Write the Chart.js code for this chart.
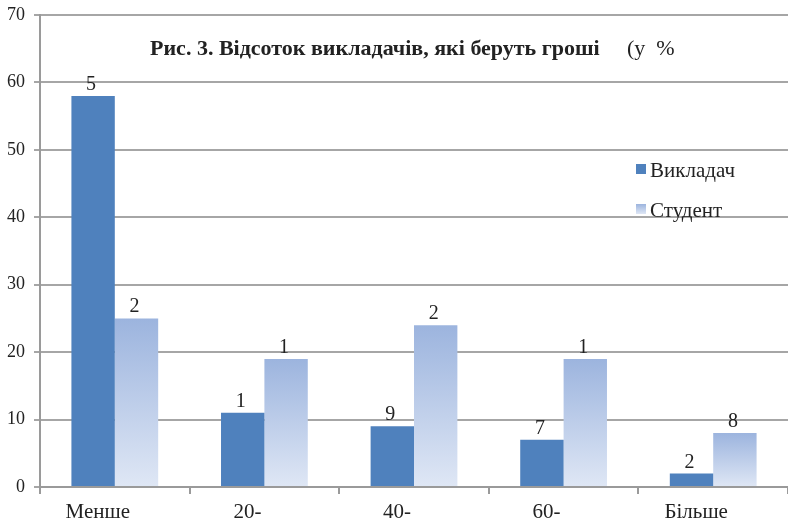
<!DOCTYPE html>
<html>
<head>
<meta charset="utf-8">
<script src="https://cdn.jsdelivr.net/npm/chart.js@4"></script>
<style>
  html, body { margin: 0; padding: 0; background: #fff; }
  #wrap { width: 788px; height: 522px; }
</style>
</head>
<body>
<div id="wrap"><canvas id="myChart" width="788" height="522"></canvas></div>
<script>
const categories = ['Менше', '20-', '40-', '60-', 'Більше'];
const teacherValues = [58, 11, 9, 7, 2];
const studentValues = [25, 19, 24, 19, 8];
// labels above the bars as printed in the source (truncated)
const teacherLabels = ['5', '1', '9', '7', '2'];
const studentLabels = ['2', '1', '2', '1', '8'];
const seriesNames = ['Викладач', 'Студент'];
const titleMain = 'Рис. 3. Відсоток викладачів, які беруть гроші';
const titleTail = '(у  %';

const serif = '"Liberation Serif", "DejaVu Serif", serif';

function studentGradient(ctx) {
  const chart = ctx.chart;
  if (!chart.chartArea || ctx.raw === undefined) return '#b4c7e7';
  const y = chart.scales.y;
  const top = y.getPixelForValue(ctx.raw);
  const bottom = y.getPixelForValue(0);
  const g = chart.ctx.createLinearGradient(0, top, 0, bottom);
  g.addColorStop(0, '#9cb4de');
  g.addColorStop(1, '#dfe7f5');
  return g;
}

const labelsPlugin = {
  id: 'barLabels',
  afterDatasetsDraw(chart) {
    const c = chart.ctx;
    const texts = [teacherLabels, studentLabels];
    c.save();
    c.font = '20px ' + serif;
    c.fillStyle = '#222';
    c.textAlign = 'center';
    c.textBaseline = 'alphabetic';
    chart.data.datasets.forEach((ds, i) => {
      chart.getDatasetMeta(i).data.forEach((bar, j) => {
        c.fillText(texts[i][j], bar.x - 2, bar.y - 6);
      });
    });
    c.restore();
  }
};

const decorPlugin = {
  id: 'decor',
  afterDraw(chart) {
    const c = chart.ctx;
    c.save();
    // title inside the plot
    c.font = 'bold 22px ' + serif;
    c.fillStyle = '#222';
    c.textAlign = 'left';
    c.textBaseline = 'middle';
    c.fillText(titleMain, 150, 49);
    c.font = '22px ' + serif;
    c.fillText(titleTail, 627, 49);
    // legend
    c.font = '21px ' + serif;
    c.fillStyle = '#4f81bd';
    c.fillRect(636, 164, 10, 10);
    const g = c.createLinearGradient(0, 204, 0, 214);
    g.addColorStop(0, '#9cb4de');
    g.addColorStop(1, '#dfe7f5');
    c.fillStyle = g;
    c.fillRect(636, 204, 10, 10);
    c.fillStyle = '#222';
    c.fillText(seriesNames[0], 650, 171);
    c.fillText(seriesNames[1], 650, 211);
    c.restore();
  }
};

const config = {
  type: 'bar',
  data: {
    labels: categories,
    datasets: [
      {
        label: seriesNames[0],
        data: teacherValues,
        backgroundColor: '#4f81bd',
        categoryPercentage: 0.58,
        barPercentage: 1,
      },
      {
        label: seriesNames[1],
        data: studentValues,
        backgroundColor: studentGradient,
        categoryPercentage: 0.58,
        barPercentage: 1,
      },
    ],
  },
  options: {
    responsive: false,
    animation: false,
    layout: { padding: { top: 15, right: 0, bottom: 0, left: 0 } },
    plugins: {
      legend: { display: false },
      title: { display: false },
      tooltip: { enabled: false },
    },
    scales: {
      x: {
        grid: {
          offset: true,
          drawOnChartArea: false,
          drawTicks: true,
          tickLength: 7,
          color: '#9a9a9a',
          lineWidth: 2,
        },
        border: { color: '#9a9a9a', width: 2 },
        ticks: {
          color: '#222',
          font: { family: serif, size: 21 },
          padding: 6,
          labelOffset: -17,
        },
        afterFit(scale) {
          scale.height = 35;
          scale.paddingLeft = 0;
          scale.paddingRight = 0;
        },
      },
      y: {
        min: 0,
        max: 70,
        ticks: {
          stepSize: 10,
          color: '#222',
          font: { family: serif, size: 18 },
          padding: 9,
        },
        grid: {
          color: '#a6a6a6',
          lineWidth: 2,
          tickLength: 6,
        },
        border: { color: '#9a9a9a', width: 2 },
        afterFit(scale) {
          scale.width = 40;
          scale.paddingTop = 0;
          scale.paddingBottom = 0;
        },
      },
    },
  },
  plugins: [labelsPlugin, decorPlugin],
};

const myChart = new Chart(document.getElementById('myChart'), config);
</script>
</body>
</html>
